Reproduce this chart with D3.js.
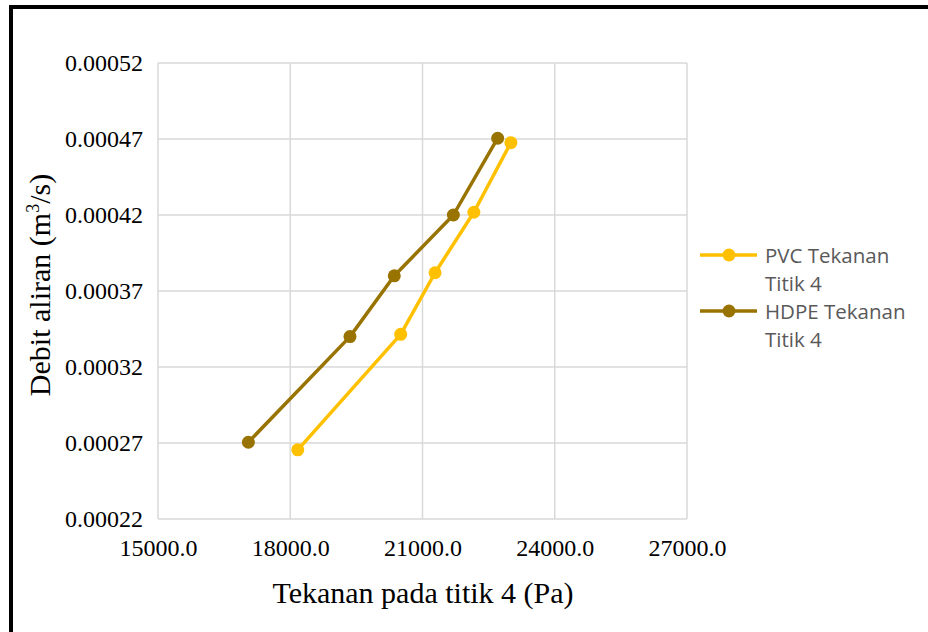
<!DOCTYPE html>
<html><head><meta charset="utf-8">
<script src="https://cdn.jsdelivr.net/npm/d3@7"></script>
<style>body{margin:0;background:#fff}svg{display:block}</style>
</head><body>
<script>
const xTicks = [15000, 18000, 21000, 24000, 27000];
const yTicks = [0.00022, 0.00027, 0.00032, 0.00037, 0.00042, 0.00047, 0.00052];
const pvcX = [18170, 20505, 21285, 22165, 23005];
const pvcY = [0.0002655, 0.0003415, 0.000382, 0.0004218, 0.0004676];
const hdpeX = [17050, 19355, 20360, 21700, 22705];
const hdpeY = [0.0002705, 0.00034, 0.00038, 0.00042, 0.0004705];
const seriesNames = ["PVC Tekanan Titik 4", "HDPE Tekanan Titik 4"];
const seriesColors = ["#FFC000", "#997300"];

const W = 928, H = 632;
const svg = d3.select("body").append("svg").attr("width", W).attr("height", H);
svg.append("rect").attr("width", W).attr("height", H).attr("fill", "#fff");
// outer frame (right/bottom clipped)
svg.append("path").attr("d", `M11,${H+10} L11,7 L${W+10},7`).attr("fill","none").attr("stroke","#000").attr("stroke-width",4);

const x = d3.scaleLinear().domain([15000, 27000]).range([158, 687]);
const y = d3.scaleLinear().domain([0.00022, 0.00052]).range([519, 63]);

const grid = svg.append("g");
grid.selectAll("line.v").data(xTicks).join("line")
  .attr("x1", d => x(d)).attr("x2", d => x(d)).attr("y1", y(0.00052)).attr("y2", y(0.00022))
  .attr("stroke", "#d9d9d9").attr("stroke-width", 1.5);
grid.selectAll("line.h").data(yTicks).join("line")
  .attr("x1", x(15000)).attr("x2", x(27000)).attr("y1", d => y(d)).attr("y2", d => y(d))
  .attr("stroke", "#d9d9d9").attr("stroke-width", 1.5);

const serif = "'Liberation Serif','Times New Roman',serif";
const xAxis = svg.append("g").attr("transform", `translate(0,${y(0.00022)})`)
  .call(d3.axisBottom(x).tickValues(xTicks).tickFormat(d3.format(".1f")).tickSize(0).tickPadding(20));
xAxis.select(".domain").remove();
xAxis.selectAll("text").attr("font-family", serif).attr("font-size", 24).attr("fill", "#000");

const yAxis = svg.append("g").attr("transform", `translate(${x(15000)},0)`)
  .call(d3.axisLeft(y).tickValues(yTicks).tickFormat(d3.format(".5f")).tickSize(0).tickPadding(15));
yAxis.select(".domain").remove();
yAxis.selectAll("text").attr("font-family", serif).attr("font-size", 24).attr("fill", "#000");

svg.append("text").attr("x", 423).attr("y", 603).attr("text-anchor", "middle")
  .attr("font-family", serif).attr("font-size", 30).attr("fill", "#000")
  .text("Tekanan pada titik 4 (Pa)");
const yt = svg.append("text").attr("transform", "translate(50,285) rotate(-90)").attr("text-anchor", "middle")
  .attr("font-family", serif).attr("font-size", 30).attr("fill", "#000");
yt.append("tspan").text("Debit aliran (m");
yt.append("tspan").attr("font-size", 18).attr("dy", -11).text("3");
yt.append("tspan").attr("dy", 11).text("/s)");

const series = [
  {name: seriesNames[0], color: seriesColors[0], pts: pvcX.map((v, i) => [v, pvcY[i]])},
  {name: seriesNames[1], color: seriesColors[1], pts: hdpeX.map((v, i) => [v, hdpeY[i]])}
];
const line = d3.line().x(d => x(d[0])).y(d => y(d[1]));
series.forEach(s => {
  svg.append("path").attr("d", line(s.pts)).attr("fill", "none")
    .attr("stroke", s.color).attr("stroke-width", 3.5).attr("stroke-linejoin", "round");
  svg.selectAll(null).data(s.pts).join("circle")
    .attr("cx", d => x(d[0])).attr("cy", d => y(d[1])).attr("r", 6.5).attr("fill", s.color);
});

// legend
const sans = "'Open Sans','Noto Sans',sans-serif";
series.forEach((s, i) => {
  const ly = 255 + i * 56;
  const g = svg.append("g");
  g.append("line").attr("x1", 700).attr("x2", 757).attr("y1", ly).attr("y2", ly)
    .attr("stroke", s.color).attr("stroke-width", 3.5);
  g.append("circle").attr("cx", 729).attr("cy", ly).attr("r", 6.5).attr("fill", s.color);
  const words = s.name.split(" ");
  const t = g.append("text").attr("font-family", sans).attr("font-size", 20.5).attr("fill", "#595959");
  t.append("tspan").attr("x", 765).attr("y", ly + 8).text(words.slice(0, 2).join(" "));
  t.append("tspan").attr("x", 765).attr("y", ly + 36).text(words.slice(2).join(" "));
});
</script>
</body></html>
